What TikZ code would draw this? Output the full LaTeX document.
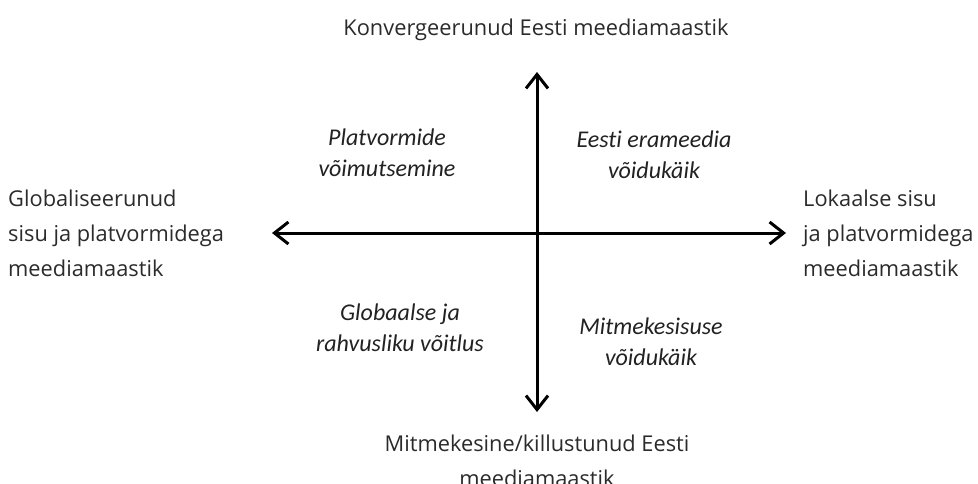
\documentclass[tikz,border=0pt]{standalone}
\usepackage{fontspec}
\setmainfont{Open Sans}[Ligatures={NoCommon}]
\newfontfamily\itfont{Carlito}[Ligatures={NoCommon}]
\usetikzlibrary{arrows.meta}
\definecolor{txt}{HTML}{2B2B2B}
\definecolor{qtxt}{HTML}{222222}
\begin{document}
\begin{tikzpicture}[x=1pt,y=-1pt,
  lab/.style={inner sep=0pt, text=txt, font=\fontsize{21.8}{35}\selectfont},
  quad/.style={inner sep=0pt, text=qtxt, font=\itfont\itshape\fontsize{24}{31}\selectfont, align=center},
  axisline/.style={line width=3pt, {Straight Barb[length=14pt,width=22pt]}-{Straight Barb[length=14pt,width=22pt]}}]
\useasboundingbox (0,0) rectangle (978,484);
\fill[white] (0,0) rectangle (978,484);
\coordinate (top) at (537,72);
\coordinate (bot) at (537,412);
\coordinate (lft) at (272,233);
\coordinate (rgt) at (786,233);
\draw[axisline] (bot) -- (top);
\draw[axisline] (lft) -- (rgt);
\node[lab, anchor=base] (ntop) at (536,36) {Konvergeerunud Eesti meediamaastik};
\node[lab, anchor=north, align=center] (nbot) at (537,435) {Mitmekesine/killustunud Eesti\\meediamaastik};
\node[lab, anchor=north west, align=left] (nleft) at (8,190) {Globaliseerunud\\sisu ja platvormidega\\meediamaastik};
\node[lab, anchor=north west, align=left] (nright) at (803,190) {Lokaalse sisu\\ja platvormidega\\meediamaastik};
\node[quad, anchor=north] (q1) at (387,129) {Platvormide\\võimutsemine};
\node[quad, anchor=north] (q2) at (654,131) {Eest\kern0pt i erameedia\\võidukäik};
\node[quad, anchor=north] (q3) at (400,304) {Globaalse ja\\rahvusliku võitlus};
\node[quad, anchor=north] (q4) at (651,318) {Mitmekesisuse\\võidukäik};
\end{tikzpicture}
\end{document}
